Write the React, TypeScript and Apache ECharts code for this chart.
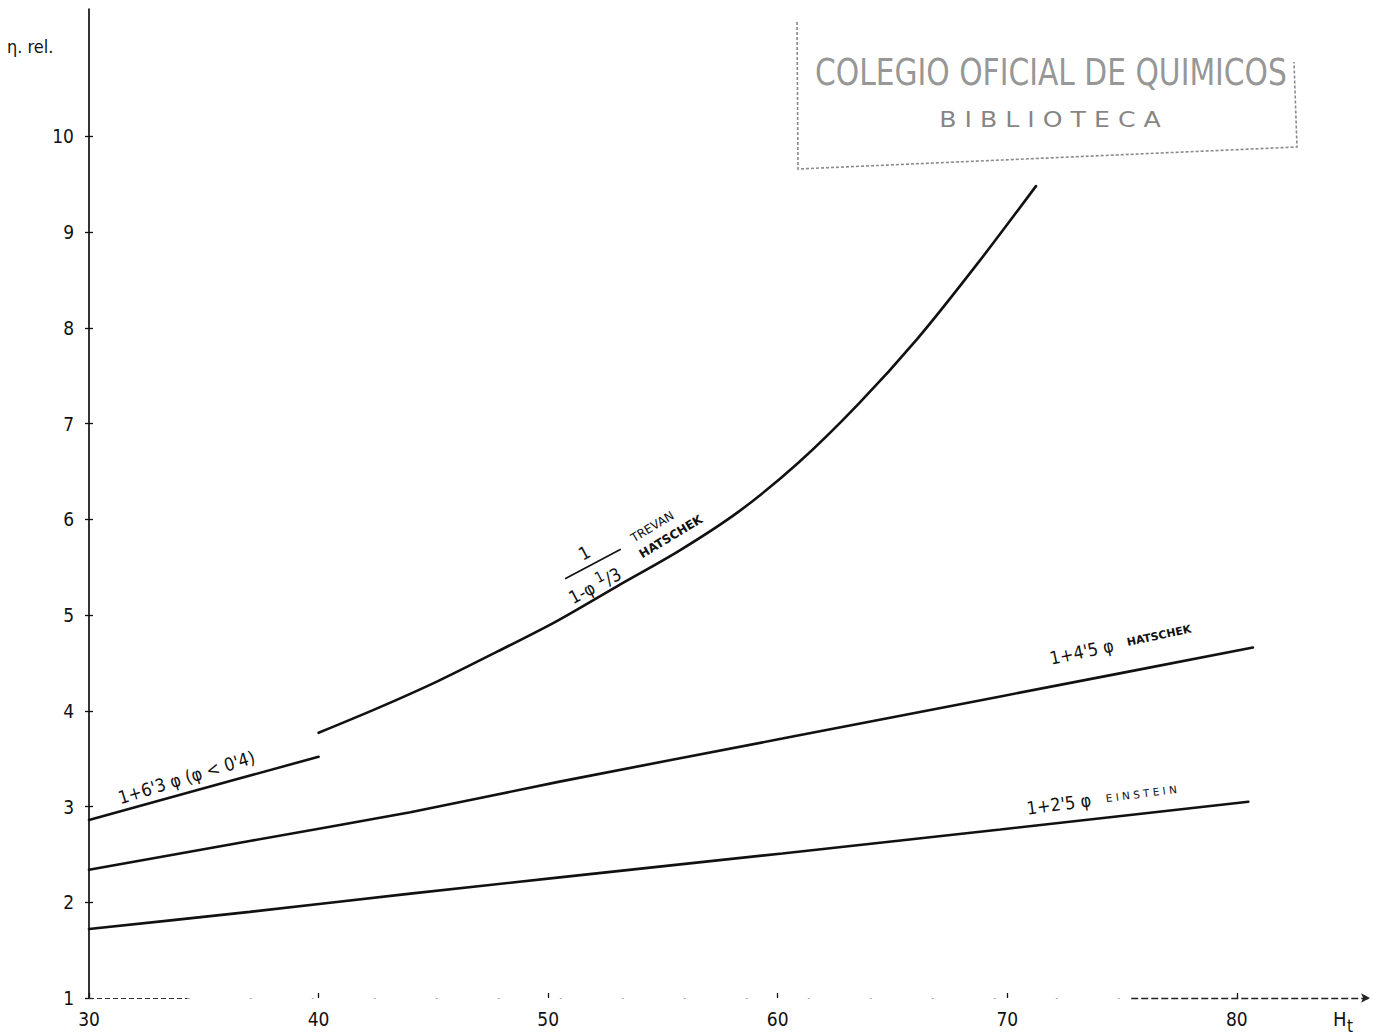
import React, { useEffect, useRef } from "react";
import * as echarts from "echarts";

// Lettering fonts: narrow digits for the formulae, small caps-like sans for the author names.
const FONT = "'Liberation Sans Narrow', 'DejaVu Sans Condensed', 'Liberation Sans', sans-serif";
const CAPS_FONT = "'DejaVu Sans', 'Liberation Sans', sans-serif";
const INK = "#111111";
const STAMP = "#8a8a8a";

// Axes: haematocrit Ht (%) against relative viscosity η rel.
const X_TICKS = [30, 40, 50, 60, 70, 80];
const Y_TICKS = [1, 2, 3, 4, 5, 6, 7, 8, 9, 10];
const X_MIN = 30;
const X_MAX = 85.8;
const Y_MIN = 1;
const Y_MAX = 11.33;

// 1 + 6.3 φ  (valid for φ < 0.4)
const LINEAR_63_HT = [30, 35, 40];
const LINEAR_63_ETA = [2.86, 3.19, 3.52];

// Trevan / Hatschek: 1 / (1 - φ^1/3)
const TREVAN_HT = [40, 42.6, 45.2, 47.8, 50.4, 53, 55.7, 58.3, 60.9, 63.5, 66.1, 68.7, 71.25];
const TREVAN_ETA = [3.77, 4.03, 4.31, 4.62, 4.94, 5.3, 5.67, 6.08, 6.59, 7.2, 7.89, 8.67, 9.48];

// Hatschek: 1 + 4.5 φ
const HATSCHEK_HT = [30, 37, 44, 50.5, 60.2, 69.7, 80.7];
const HATSCHEK_ETA = [2.34, 2.64, 2.94, 3.26, 3.71, 4.15, 4.66];

// Einstein: 1 + 2.5 φ
const EINSTEIN_HT = [30, 37, 44, 50.5, 60.2, 69.7, 80.5];
const EINSTEIN_ETA = [1.72, 1.9, 2.09, 2.26, 2.51, 2.76, 3.05];

// Pieces of the horizontal axis that are drawn (left stub, faint middle, right part with arrow)
const AXIS_LEFT = [30, 34.3];
const AXIS_MIDDLE = [34.3, 75.4];
const AXIS_RIGHT = [75.4, X_MAX];

const pairs = (xs: number[], ys: number[]) => xs.map((x, i) => [x, ys[i]]);
const rad = (d: number) => (d * Math.PI) / 180;

const curve = (name: string, data: number[][], smooth: number) => ({
  type: "line",
  name,
  data,
  smooth,
  symbol: "none",
  showSymbol: false,
  silent: true,
  z: 3,
  lineStyle: { color: INK, width: 2.6, cap: "round" },
});

function buildOption() {
  const tickStyle = { color: INK, width: 1.3 };
  const labelStyle = { color: INK, fontSize: 19, fontFamily: FONT };
  return {
    animation: false,
    backgroundColor: "#ffffff",
    grid: { left: 89, right: 6, top: 9, bottom: 37, outerBoundsMode: "none" },
    xAxis: {
      type: "value",
      min: X_MIN,
      max: X_MAX,
      axisLine: { show: false },
      splitLine: { show: false },
      axisTick: { show: true, inside: true, length: 5, customValues: X_TICKS, lineStyle: tickStyle },
      axisLabel: { customValues: X_TICKS, margin: 11, ...labelStyle },
    },
    yAxis: [
      {
        type: "value",
        min: Y_MIN,
        max: Y_MAX,
        position: "left",
        splitLine: { show: false },
        axisLine: { show: true, onZero: false, lineStyle: { color: INK, width: 1.7 } },
        axisTick: { show: true, length: 4, customValues: Y_TICKS, lineStyle: tickStyle },
        axisLabel: { customValues: Y_TICKS, margin: 15, ...labelStyle },
      },
      {
        type: "value",
        min: Y_MIN,
        max: Y_MAX,
        position: "left",
        offset: 0,
        splitLine: { show: false },
        axisLine: { show: false },
        axisTick: { show: true, inside: true, length: 4, customValues: Y_TICKS, lineStyle: tickStyle },
        axisLabel: { show: false },
      },
    ],
    series: [
      curve("1+6'3 φ", pairs(LINEAR_63_HT, LINEAR_63_ETA), 0),
      curve("Trevan-Hatschek", pairs(TREVAN_HT, TREVAN_ETA), 0.3),
      curve("Hatschek", pairs(HATSCHEK_HT, HATSCHEK_ETA), 0.2),
      curve("Einstein", pairs(EINSTEIN_HT, EINSTEIN_ETA), 0.2),
      {
        type: "line",
        name: "axis",
        data: [],
        silent: true,
        markLine: {
          silent: true,
          animation: false,
          label: { show: false },
          symbol: ["none", "none"],
          data: [
            [
              { coord: [AXIS_LEFT[0], Y_MIN], lineStyle: { color: "#333", width: 1.1, type: [5, 3] } },
              { coord: [AXIS_LEFT[1], Y_MIN] },
            ],
            [
              { coord: [AXIS_MIDDLE[0], Y_MIN], lineStyle: { color: "#aaa", width: 1, type: [2, 60] } },
              { coord: [AXIS_MIDDLE[1], Y_MIN] },
            ],
            [
              { coord: [AXIS_RIGHT[0], Y_MIN], lineStyle: { color: "#222", width: 1.3, type: [7, 3] } },
              { coord: [AXIS_RIGHT[1], Y_MIN], symbol: "arrow", symbolSize: [7, 9] },
            ],
          ],
        },
      },
    ],
  };
}

function buildAnnotations(chart: echarts.ECharts) {
  const px = (x: number, y: number) =>
    chart.convertToPixel({ xAxisIndex: 0, yAxisIndex: 0 }, [x, y]) as number[];

  const txt = (text: string, size: number, extra: Record<string, unknown> = {}) => ({
    text,
    fontSize: size,
    fontFamily: FONT,
    fill: INK,
    ...extra,
  });

  const [l63x, l63y] = px(31.4, 3.0);
  const [frx, fry] = px(51.97, 5.535);
  const [trx, try_] = px(53.78, 5.74);
  const [hx, hy] = px(71.94, 4.455);
  const [ex, ey] = px(70.9, 2.889);

  return [
    // formula on the 1 + 6.3 φ segment
    {
      type: "text",
      x: l63x,
      y: l63y,
      rotation: rad(17),
      style: txt("1+6'3 φ (φ < 0'4)", 18, { align: "left", verticalAlign: "bottom" }),
    },
    // fraction 1 / (1 - φ^1/3)
    {
      type: "group",
      x: frx,
      y: fry,
      rotation: rad(28),
      children: [
        { type: "line", shape: { x1: -32, y1: 0, x2: 31, y2: 0 }, style: { stroke: INK, lineWidth: 1.6 } },
        { type: "text", x: -3, y: -5, style: txt("1", 18, { align: "center", verticalAlign: "bottom" }) },
        {
          type: "text",
          x: -37,
          y: 7,
          style: {
            text: "{n|1-φ }{u|1}{n|/3}",
            align: "left",
            verticalAlign: "top",
            rich: {
              n: { fontSize: 18, fontFamily: FONT, fill: INK, verticalAlign: "bottom" },
              u: { fontSize: 15, fontFamily: FONT, fill: INK, verticalAlign: "bottom", padding: [0, 0, 7, 0] },
            },
          },
        },
      ],
    },
    // author names on the Trevan curve
    {
      type: "group",
      x: trx,
      y: try_,
      rotation: rad(31),
      children: [
        {
          type: "text",
          x: 0,
          y: 0,
          style: { text: "TREVAN", fontSize: 12, fontFamily: CAPS_FONT, fill: INK, align: "left", verticalAlign: "bottom" },
        },
        {
          type: "text",
          x: -1,
          y: 18,
          style: {
            text: "HATSCHEK",
            fontSize: 12,
            fontWeight: 600,
            fontFamily: CAPS_FONT,
            fill: INK,
            align: "left",
            verticalAlign: "bottom",
          },
        },
      ],
    },
    // 1 + 4.5 φ  HATSCHEK
    {
      type: "text",
      x: hx,
      y: hy,
      rotation: rad(12),
      style: {
        text: "{a|1+4'5 φ}{b|HATSCHEK}",
        align: "left",
        verticalAlign: "bottom",
        rich: {
          a: { fontSize: 18, fontFamily: FONT, fill: INK, verticalAlign: "bottom" },
          b: {
            fontSize: 11,
            fontWeight: "bold",
            fontFamily: CAPS_FONT,
            fill: INK,
            verticalAlign: "bottom",
            padding: [0, 0, 3, 14],
          },
        },
      },
    },
    // 1 + 2.5 φ  EINSTEIN
    {
      type: "text",
      x: ex,
      y: ey,
      rotation: rad(7.5),
      style: {
        text: "{a|1+2'5 φ}{b|E I N S T E I N}",
        align: "left",
        verticalAlign: "bottom",
        rich: {
          a: { fontSize: 18, fontFamily: FONT, fill: INK, verticalAlign: "bottom" },
          b: { fontSize: 10.5, fontFamily: CAPS_FONT, fill: INK, verticalAlign: "bottom", padding: [0, 0, 3, 15] },
        },
      },
    },
    // axis titles
    {
      type: "text",
      x: 7,
      y: 46,
      style: txt("η. rel.", 18, { align: "left", verticalAlign: "middle" }),
    },
    {
      type: "text",
      x: 1333,
      y: 1019,
      style: txt("H", 20, { align: "left", verticalAlign: "middle" }),
    },
    {
      type: "text",
      x: 1347,
      y: 1026,
      style: txt("t", 17, { align: "left", verticalAlign: "middle" }),
    },
    // library stamp
    {
      type: "group",
      x: 0,
      y: 0,
      silent: true,
      children: [
        {
          type: "polyline",
          shape: { points: [[797, 22], [798, 169], [1297, 147], [1294, 62]] },
          style: { stroke: STAMP, lineWidth: 1.6, lineDash: [3, 2], fill: "none" },
        },
        {
          type: "text",
          x: 815,
          y: 72,
          scaleX: 0.87,
          style: {
            text: "COLEGIO OFICIAL DE QUIMICOS",
            fontSize: 38,
            fontFamily: FONT,
            fill: "#7a7a7a",
            opacity: 0.8,
            align: "left",
            verticalAlign: "middle",
          },
        },
        {
          type: "text",
          x: 1050,
          y: 119,
          scaleX: 1.2,
          style: {
            text: "B I B L I O T E C A",
            fontSize: 21,
            fontFamily: CAPS_FONT,
            fill: "#6f6f6f",
            opacity: 0.85,
            align: "center",
            verticalAlign: "middle",
          },
        },
      ],
    },
  ];
}

export default function App() {
  const ref = useRef<HTMLDivElement | null>(null);

  useEffect(() => {
    if (!ref.current) return;
    const chart = echarts.init(ref.current, undefined, { renderer: "svg" });
    chart.setOption(buildOption() as any);
    chart.setOption({ graphic: { elements: buildAnnotations(chart) } } as any);
    return () => chart.dispose();
  }, []);

  return (
    <div
      ref={ref}
      style={{ position: "absolute", left: 0, top: 0, width: 1376, height: 1035, background: "#ffffff" }}
    />
  );
}
